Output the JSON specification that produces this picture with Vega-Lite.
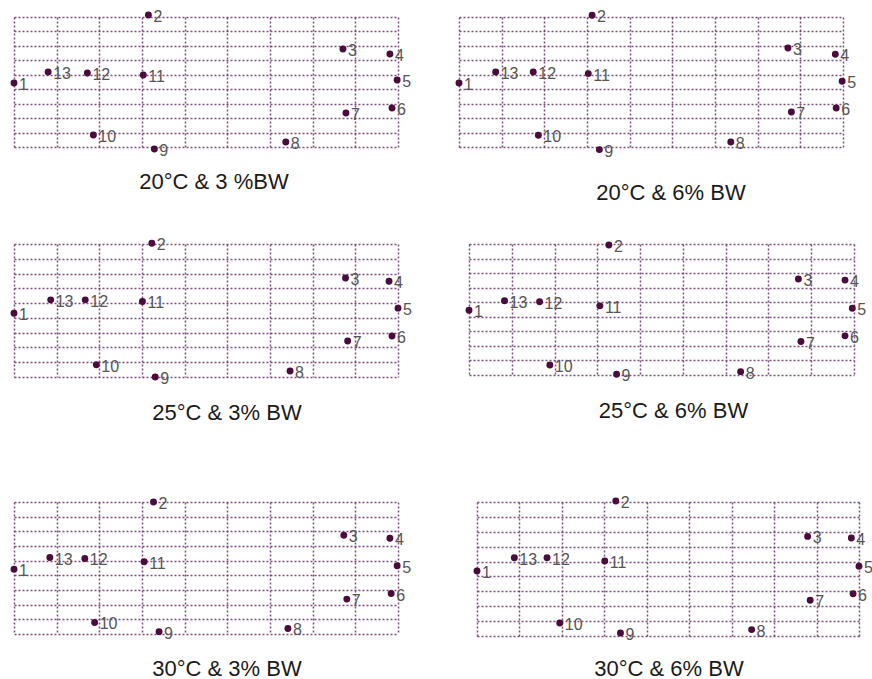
{
  "$schema": "https://vega.github.io/schema/vega-lite/v6.json",
  "padding": {"left": 10, "top": 8, "right": 0, "bottom": 0},
  "background": "white",
  "spacing": 70,
  "config": {
    "view": {"stroke": null},
    "axis": {"grid": true, "labels": false, "ticks": false, "domain": false, "title": null, "gridDash": [2, 2], "gridColor": "#6a3d6a", "gridWidth": 1.5, "gridOpacity": 0.9},
    "title": {"font": "Liberation Sans", "fontSize": 22, "fontWeight": "normal", "color": "#1a1a1a"}
  },
  "datasets": {
    "pts": [
      {"panel": "P1", "id": "1", "x": 0.00, "y": 4.43},
      {"panel": "P1", "id": "2", "x": 3.15, "y": 9.14},
      {"panel": "P1", "id": "3", "x": 7.71, "y": 6.78},
      {"panel": "P1", "id": "4", "x": 8.81, "y": 6.44},
      {"panel": "P1", "id": "5", "x": 8.98, "y": 4.64},
      {"panel": "P1", "id": "6", "x": 8.86, "y": 2.70},
      {"panel": "P1", "id": "7", "x": 7.78, "y": 2.35},
      {"panel": "P1", "id": "8", "x": 6.37, "y": 0.34},
      {"panel": "P1", "id": "9", "x": 3.29, "y": -0.14},
      {"panel": "P1", "id": "10", "x": 1.86, "y": 0.83},
      {"panel": "P1", "id": "11", "x": 3.03, "y": 4.98},
      {"panel": "P1", "id": "12", "x": 1.72, "y": 5.12},
      {"panel": "P1", "id": "13", "x": 0.80, "y": 5.19},
      {"panel": "P2", "id": "1", "x": 0.00, "y": 4.43},
      {"panel": "P2", "id": "2", "x": 3.12, "y": 9.12},
      {"panel": "P2", "id": "3", "x": 7.71, "y": 6.85},
      {"panel": "P2", "id": "4", "x": 8.82, "y": 6.42},
      {"panel": "P2", "id": "5", "x": 8.98, "y": 4.55},
      {"panel": "P2", "id": "6", "x": 8.84, "y": 2.70},
      {"panel": "P2", "id": "7", "x": 7.79, "y": 2.42},
      {"panel": "P2", "id": "8", "x": 6.37, "y": 0.35},
      {"panel": "P2", "id": "9", "x": 3.29, "y": -0.18},
      {"panel": "P2", "id": "10", "x": 1.86, "y": 0.81},
      {"panel": "P2", "id": "11", "x": 3.03, "y": 5.08},
      {"panel": "P2", "id": "12", "x": 1.74, "y": 5.19},
      {"panel": "P2", "id": "13", "x": 0.86, "y": 5.19},
      {"panel": "P3", "id": "1", "x": 0.00, "y": 4.32},
      {"panel": "P3", "id": "2", "x": 3.23, "y": 9.05},
      {"panel": "P3", "id": "3", "x": 7.77, "y": 6.70},
      {"panel": "P3", "id": "4", "x": 8.79, "y": 6.48},
      {"panel": "P3", "id": "5", "x": 9.00, "y": 4.66},
      {"panel": "P3", "id": "6", "x": 8.86, "y": 2.77},
      {"panel": "P3", "id": "7", "x": 7.82, "y": 2.43},
      {"panel": "P3", "id": "8", "x": 6.47, "y": 0.40},
      {"panel": "P3", "id": "9", "x": 3.31, "y": 0.00},
      {"panel": "P3", "id": "10", "x": 1.93, "y": 0.83},
      {"panel": "P3", "id": "11", "x": 3.01, "y": 5.11},
      {"panel": "P3", "id": "12", "x": 1.67, "y": 5.22},
      {"panel": "P3", "id": "13", "x": 0.86, "y": 5.22},
      {"panel": "P4", "id": "1", "x": 0.00, "y": 4.45},
      {"panel": "P4", "id": "2", "x": 3.27, "y": 8.93},
      {"panel": "P4", "id": "3", "x": 7.70, "y": 6.59},
      {"panel": "P4", "id": "4", "x": 8.79, "y": 6.52},
      {"panel": "P4", "id": "5", "x": 8.96, "y": 4.59},
      {"panel": "P4", "id": "6", "x": 8.79, "y": 2.69},
      {"panel": "P4", "id": "7", "x": 7.76, "y": 2.30},
      {"panel": "P4", "id": "8", "x": 6.35, "y": 0.23},
      {"panel": "P4", "id": "9", "x": 3.45, "y": 0.05},
      {"panel": "P4", "id": "10", "x": 1.89, "y": 0.69},
      {"panel": "P4", "id": "11", "x": 3.06, "y": 4.75},
      {"panel": "P4", "id": "12", "x": 1.65, "y": 5.03},
      {"panel": "P4", "id": "13", "x": 0.83, "y": 5.10},
      {"panel": "P5", "id": "1", "x": 0.00, "y": 4.42},
      {"panel": "P5", "id": "2", "x": 3.27, "y": 9.00},
      {"panel": "P5", "id": "3", "x": 7.73, "y": 6.73},
      {"panel": "P5", "id": "4", "x": 8.81, "y": 6.53},
      {"panel": "P5", "id": "5", "x": 8.98, "y": 4.65},
      {"panel": "P5", "id": "6", "x": 8.84, "y": 2.76},
      {"panel": "P5", "id": "7", "x": 7.80, "y": 2.38},
      {"panel": "P5", "id": "8", "x": 6.42, "y": 0.38},
      {"panel": "P5", "id": "9", "x": 3.40, "y": 0.16},
      {"panel": "P5", "id": "10", "x": 1.89, "y": 0.79},
      {"panel": "P5", "id": "11", "x": 3.05, "y": 4.92},
      {"panel": "P5", "id": "12", "x": 1.66, "y": 5.15},
      {"panel": "P5", "id": "13", "x": 0.84, "y": 5.21},
      {"panel": "P6", "id": "1", "x": 0.00, "y": 4.37},
      {"panel": "P6", "id": "2", "x": 3.27, "y": 9.07},
      {"panel": "P6", "id": "3", "x": 7.79, "y": 6.69},
      {"panel": "P6", "id": "4", "x": 8.82, "y": 6.58},
      {"panel": "P6", "id": "5", "x": 9.00, "y": 4.68},
      {"panel": "P6", "id": "6", "x": 8.86, "y": 2.84},
      {"panel": "P6", "id": "7", "x": 7.85, "y": 2.40},
      {"panel": "P6", "id": "8", "x": 6.47, "y": 0.43},
      {"panel": "P6", "id": "9", "x": 3.38, "y": 0.20},
      {"panel": "P6", "id": "10", "x": 1.95, "y": 0.87},
      {"panel": "P6", "id": "11", "x": 3.01, "y": 5.04},
      {"panel": "P6", "id": "12", "x": 1.65, "y": 5.26},
      {"panel": "P6", "id": "13", "x": 0.88, "y": 5.26}
    ]
  },
  "vconcat": [
    {
      "spacing": 33,
      "vconcat": [
        {
          "spacing": 43,
          "hconcat": [
            {
              "width": 384, "height": 130,
              "data": {"name": "pts"},
              "transform": [{"filter": {"field": "panel", "equal": "P1"}}],
              "title": {"text": "20°C & 3 %BW", "orient": "bottom", "offset": 13, "dx": 8, "frame": "group", "anchor": "middle"},
              "encoding": {
                "x": {"field": "x", "type": "quantitative", "scale": {"domain": [0, 9], "nice": false, "zero": false}, "axis": {"values": [0, 1, 2, 3, 4, 5, 6, 7, 8, 9]}},
                "y": {"field": "y", "type": "quantitative", "scale": {"domain": [0, 9], "nice": false, "zero": false}, "axis": {"values": [0, 1, 2, 3, 4, 5, 6, 7, 8, 9]}}
              },
              "layer": [
                {"mark": {"type": "circle", "size": 48, "color": "#4a0d3b", "opacity": 1}},
                {"mark": {"type": "text", "align": "left", "baseline": "middle", "dx": 5, "dy": 2, "fontSize": 16, "font": "Liberation Sans", "color": "#555555"}, "encoding": {"text": {"field": "id"}}}
              ]
            },
            {
              "width": 384, "height": 130,
              "data": {"name": "pts"},
              "transform": [{"filter": {"field": "panel", "equal": "P2"}}],
              "title": {"text": "20°C & 6% BW", "orient": "bottom", "offset": 23, "dx": 20, "frame": "group", "anchor": "middle"},
              "encoding": {
                "x": {"field": "x", "type": "quantitative", "scale": {"domain": [0, 9], "nice": false, "zero": false}, "axis": {"values": [0, 1, 2, 3, 4, 5, 6, 7, 8, 9]}},
                "y": {"field": "y", "type": "quantitative", "scale": {"domain": [0, 9], "nice": false, "zero": false}, "axis": {"values": [0, 1, 2, 3, 4, 5, 6, 7, 8, 9]}}
              },
              "layer": [
                {"mark": {"type": "circle", "size": 48, "color": "#4a0d3b", "opacity": 1}},
                {"mark": {"type": "text", "align": "left", "baseline": "middle", "dx": 5, "dy": 2, "fontSize": 16, "font": "Liberation Sans", "color": "#555555"}, "encoding": {"text": {"field": "id"}}}
              ]
            }
          ]
        },
        {
          "spacing": 53,
          "hconcat": [
            {
              "width": 384, "height": 133,
              "data": {"name": "pts"},
              "transform": [{"filter": {"field": "panel", "equal": "P3"}}],
              "title": {"text": "25°C & 3% BW", "orient": "bottom", "offset": 16, "dx": 21, "frame": "group", "anchor": "middle"},
              "encoding": {
                "x": {"field": "x", "type": "quantitative", "scale": {"domain": [0, 9], "nice": false, "zero": false}, "axis": {"values": [0, 1, 2, 3, 4, 5, 6, 7, 8, 9]}},
                "y": {"field": "y", "type": "quantitative", "scale": {"domain": [0, 9], "nice": false, "zero": false}, "axis": {"values": [0, 1, 2, 3, 4, 5, 6, 7, 8, 9]}}
              },
              "layer": [
                {"mark": {"type": "circle", "size": 48, "color": "#4a0d3b", "opacity": 1}},
                {"mark": {"type": "text", "align": "left", "baseline": "middle", "dx": 5, "dy": 2, "fontSize": 16, "font": "Liberation Sans", "color": "#555555"}, "encoding": {"text": {"field": "id"}}}
              ]
            },
            {
              "width": 385, "height": 131,
              "data": {"name": "pts"},
              "transform": [{"filter": {"field": "panel", "equal": "P4"}}],
              "title": {"text": "25°C & 6% BW", "orient": "bottom", "offset": 17, "dx": 12, "frame": "group", "anchor": "middle"},
              "encoding": {
                "x": {"field": "x", "type": "quantitative", "scale": {"domain": [0, 9], "nice": false, "zero": false}, "axis": {"values": [0, 1, 2, 3, 4, 5, 6, 7, 8, 9]}},
                "y": {"field": "y", "type": "quantitative", "scale": {"domain": [0, 9], "nice": false, "zero": false}, "axis": {"values": [0, 1, 2, 3, 4, 5, 6, 7, 8, 9]}}
              },
              "layer": [
                {"mark": {"type": "circle", "size": 48, "color": "#4a0d3b", "opacity": 1}},
                {"mark": {"type": "text", "align": "left", "baseline": "middle", "dx": 5, "dy": 2, "fontSize": 16, "font": "Liberation Sans", "color": "#555555"}, "encoding": {"text": {"field": "id"}}}
              ]
            }
          ]
        }
      ]
    },
    {
      "spacing": 61,
      "hconcat": [
        {
          "width": 384, "height": 132,
          "data": {"name": "pts"},
          "transform": [{"filter": {"field": "panel", "equal": "P5"}}],
          "title": {"text": "30°C & 3% BW", "orient": "bottom", "offset": 17, "dx": 21, "frame": "group", "anchor": "middle"},
          "encoding": {
            "x": {"field": "x", "type": "quantitative", "scale": {"domain": [0, 9], "nice": false, "zero": false}, "axis": {"values": [0, 1, 2, 3, 4, 5, 6, 7, 8, 9]}},
            "y": {"field": "y", "type": "quantitative", "scale": {"domain": [0, 9], "nice": false, "zero": false}, "axis": {"values": [0, 1, 2, 3, 4, 5, 6, 7, 8, 9]}}
          },
          "layer": [
            {"mark": {"type": "circle", "size": 48, "color": "#4a0d3b", "opacity": 1}},
            {"mark": {"type": "text", "align": "left", "baseline": "middle", "dx": 5, "dy": 2, "fontSize": 16, "font": "Liberation Sans", "color": "#555555"}, "encoding": {"text": {"field": "id"}}}
          ]
        },
        {
          "width": 382, "height": 134,
          "data": {"name": "pts"},
          "transform": [{"filter": {"field": "panel", "equal": "P6"}}],
          "title": {"text": "30°C & 6% BW", "orient": "bottom", "offset": 16, "dx": 1, "frame": "group", "anchor": "middle"},
          "encoding": {
            "x": {"field": "x", "type": "quantitative", "scale": {"domain": [0, 9], "nice": false, "zero": false}, "axis": {"values": [0, 1, 2, 3, 4, 5, 6, 7, 8, 9]}},
            "y": {"field": "y", "type": "quantitative", "scale": {"domain": [0, 9], "nice": false, "zero": false}, "axis": {"values": [0, 1, 2, 3, 4, 5, 6, 7, 8, 9]}}
          },
          "layer": [
            {"mark": {"type": "circle", "size": 48, "color": "#4a0d3b", "opacity": 1}},
            {"mark": {"type": "text", "align": "left", "baseline": "middle", "dx": 5, "dy": 2, "fontSize": 16, "font": "Liberation Sans", "color": "#555555"}, "encoding": {"text": {"field": "id"}}}
          ]
        }
      ]
    }
  ]
}
